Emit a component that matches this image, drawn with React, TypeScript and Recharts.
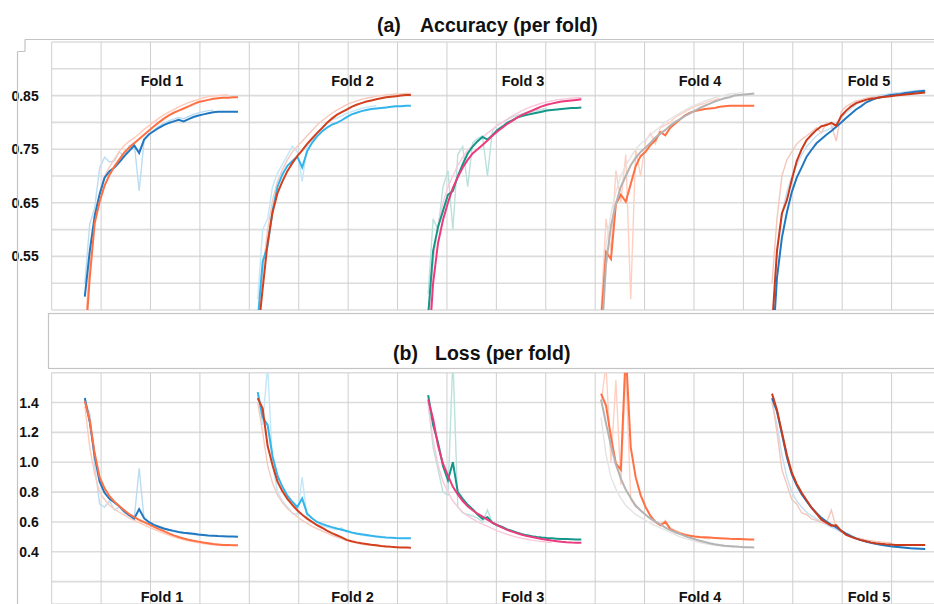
import { CartesianGrid, Line, LineChart, XAxis, YAxis } from "recharts";

const FONT = '"Liberation Sans", Arial, Helvetica, sans-serif';

// epoch axis: one grid cell = 10 epochs, each fold drawn from its own start
const FOLD_START = [6.7, 41.7, 76.2, 111.2, 145.8];
const X_DOMAIN: [number, number] = [0, 180];
const X_TICKS = [0, 10, 20, 30, 40, 50, 60, 70, 80, 90, 100, 110, 120, 130, 140, 150, 160, 170, 180];

const FOLD_LABELS = ["Fold 1", "Fold 2", "Fold 3", "Fold 4", "Fold 5"];
const FOLD_LABEL_X = [162, 352.5, 523, 700, 869];

const ACC_TICKS = [0.45, 0.5, 0.55, 0.6, 0.65, 0.7, 0.75, 0.8, 0.85, 0.9, 0.95];
const ACC_LABELED = [0.55, 0.65, 0.75, 0.85];
const LOSS_TICKS = [0.2, 0.4, 0.6, 0.8, 1.0, 1.2, 1.4, 1.6];
const LOSS_LABELED = [0.4, 0.6, 0.8, 1.0, 1.2, 1.4];

// ---- accuracy, per fold (A / B = the two runs, Light = raw noisy curves)
const acc1A = [0.475, 0.56, 0.625, 0.666, 0.697, 0.709, 0.716, 0.726, 0.737, 0.747, 0.757, 0.743, 0.768, 0.778, 0.784, 0.79, 0.795, 0.799, 0.802, 0.805, 0.802, 0.806, 0.81, 0.813, 0.815, 0.817, 0.819, 0.82, 0.82, 0.82, 0.82, 0.82];
const acc1B = [0.38, 0.51, 0.612, 0.652, 0.682, 0.702, 0.718, 0.731, 0.744, 0.753, 0.761, 0.769, 0.777, 0.785, 0.793, 0.8, 0.807, 0.813, 0.818, 0.822, 0.826, 0.83, 0.834, 0.838, 0.84, 0.842, 0.844, 0.845, 0.846, 0.846, 0.847, 0.847];
const acc1ALight = [0.5, 0.61, 0.64, 0.715, 0.735, 0.726, 0.728, 0.745, 0.736, 0.756, 0.762, 0.672, 0.766, 0.776, 0.786, 0.793, 0.798, 0.803, 0.806, 0.809, 0.807, 0.811, 0.815, 0.818, 0.82, 0.822, 0.823];
const acc1BLight = [0.4, 0.54, 0.63, 0.668, 0.7, 0.717, 0.732, 0.746, 0.757, 0.765, 0.771, 0.779, 0.787, 0.794, 0.801, 0.808, 0.814, 0.819, 0.824, 0.829, 0.833, 0.837, 0.84, 0.843, 0.846, 0.848, 0.849, 0.85, 0.851, 0.851];

const acc2A = [0.43, 0.54, 0.57, 0.635, 0.68, 0.703, 0.719, 0.728, 0.736, 0.716, 0.746, 0.762, 0.774, 0.783, 0.79, 0.796, 0.799, 0.804, 0.81, 0.815, 0.818, 0.821, 0.823, 0.825, 0.826, 0.827, 0.828, 0.829, 0.83, 0.83, 0.831, 0.831];
const acc2B = [0.4, 0.49, 0.575, 0.632, 0.668, 0.69, 0.709, 0.724, 0.737, 0.748, 0.76, 0.77, 0.78, 0.789, 0.799, 0.807, 0.814, 0.819, 0.824, 0.829, 0.833, 0.836, 0.839, 0.841, 0.843, 0.845, 0.847, 0.848, 0.849, 0.85, 0.851, 0.851];
const acc2ALight = [0.47, 0.6, 0.62, 0.68, 0.705, 0.722, 0.738, 0.756, 0.745, 0.69, 0.755, 0.768, 0.78, 0.79, 0.798, 0.805, 0.808, 0.812, 0.817, 0.82, 0.823, 0.826, 0.828, 0.83, 0.831];
const acc2BLight = [0.42, 0.52, 0.6, 0.655, 0.69, 0.712, 0.73, 0.745, 0.755, 0.765, 0.775, 0.785, 0.795, 0.803, 0.81, 0.817, 0.823, 0.828, 0.833, 0.837, 0.84, 0.843, 0.845, 0.847, 0.849, 0.85, 0.851, 0.852, 0.853, 0.853, 0.854, 0.854];

const acc3A = [0.44, 0.56, 0.605, 0.635, 0.665, 0.672, 0.7, 0.722, 0.742, 0.755, 0.765, 0.773, 0.768, 0.776, 0.786, 0.792, 0.799, 0.804, 0.809, 0.812, 0.814, 0.816, 0.818, 0.82, 0.822, 0.823, 0.824, 0.825, 0.826, 0.827, 0.827, 0.828];
const acc3B = [0.36, 0.5, 0.575, 0.618, 0.65, 0.678, 0.698, 0.716, 0.73, 0.742, 0.75, 0.758, 0.766, 0.775, 0.783, 0.79, 0.797, 0.803, 0.809, 0.814, 0.818, 0.822, 0.826, 0.83, 0.833, 0.835, 0.837, 0.839, 0.84, 0.841, 0.842, 0.843];
const acc3ALight = [0.48, 0.62, 0.6, 0.68, 0.71, 0.6, 0.74, 0.755, 0.68, 0.762, 0.77, 0.775, 0.7, 0.785, 0.795, 0.8, 0.805, 0.81, 0.813, 0.816, 0.818, 0.82, 0.822, 0.824, 0.826];
const acc3BLight = [0.4, 0.54, 0.61, 0.65, 0.68, 0.7, 0.72, 0.735, 0.748, 0.757, 0.765, 0.772, 0.78, 0.787, 0.795, 0.8, 0.806, 0.812, 0.817, 0.822, 0.826, 0.83, 0.833, 0.836, 0.838, 0.84, 0.842, 0.843, 0.844, 0.845, 0.846, 0.846];

const acc4A = [0.43, 0.558, 0.545, 0.648, 0.665, 0.652, 0.685, 0.718, 0.737, 0.745, 0.758, 0.767, 0.782, 0.776, 0.79, 0.798, 0.806, 0.813, 0.818, 0.821, 0.823, 0.825, 0.826, 0.827, 0.829, 0.83, 0.831, 0.831, 0.831, 0.831, 0.831, 0.831];
const acc4B = [0.38, 0.535, 0.607, 0.648, 0.68, 0.7, 0.72, 0.734, 0.745, 0.753, 0.762, 0.772, 0.779, 0.786, 0.794, 0.801, 0.806, 0.812, 0.817, 0.822, 0.827, 0.831, 0.835, 0.839, 0.842, 0.845, 0.847, 0.85, 0.851, 0.852, 0.853, 0.854];
const acc4ALight = [0.45, 0.62, 0.56, 0.71, 0.65, 0.74, 0.47, 0.75, 0.7, 0.765, 0.78, 0.76, 0.79, 0.795, 0.8, 0.81, 0.815, 0.82, 0.825, 0.83, 0.833, 0.836, 0.84, 0.842, 0.845];
const acc4BLight = [0.4, 0.57, 0.63, 0.67, 0.7, 0.72, 0.735, 0.75, 0.76, 0.768, 0.776, 0.785, 0.792, 0.8, 0.806, 0.812, 0.818, 0.823, 0.828, 0.832, 0.836, 0.84, 0.843, 0.846, 0.849, 0.851, 0.853, 0.854, 0.855, 0.856];

const acc5A = [0.36, 0.51, 0.585, 0.632, 0.67, 0.697, 0.716, 0.736, 0.749, 0.761, 0.769, 0.777, 0.784, 0.792, 0.8, 0.808, 0.816, 0.824, 0.83, 0.837, 0.841, 0.845, 0.847, 0.849, 0.851, 0.852, 0.853, 0.855, 0.856, 0.857, 0.858, 0.859];
const acc5B = [0.42, 0.56, 0.63, 0.655, 0.693, 0.728, 0.75, 0.767, 0.777, 0.786, 0.793, 0.795, 0.799, 0.794, 0.812, 0.822, 0.83, 0.836, 0.839, 0.842, 0.844, 0.845, 0.847, 0.848, 0.849, 0.85, 0.851, 0.852, 0.853, 0.854, 0.855, 0.856];
const acc5ALight = [0.4, 0.56, 0.63, 0.67, 0.7, 0.72, 0.74, 0.755, 0.765, 0.775, 0.782, 0.785, 0.79, 0.797, 0.808, 0.818, 0.826, 0.833, 0.839, 0.843, 0.846, 0.849, 0.851, 0.852, 0.854, 0.855, 0.856, 0.857, 0.858, 0.859, 0.86, 0.86];
const acc5BLight = [0.5, 0.62, 0.7, 0.73, 0.745, 0.76, 0.768, 0.775, 0.782, 0.79, 0.78, 0.8, 0.795, 0.765, 0.82, 0.83, 0.835, 0.84, 0.842, 0.845, 0.847, 0.848, 0.85];

// ---- loss, per fold
const loss1A = [1.43, 1.27, 1.04, 0.87, 0.795, 0.755, 0.73, 0.705, 0.672, 0.645, 0.622, 0.686, 0.625, 0.598, 0.58, 0.568, 0.556, 0.547, 0.54, 0.533, 0.528, 0.524, 0.52, 0.515, 0.512, 0.509, 0.507, 0.505, 0.504, 0.503, 0.502, 0.501];
const loss1B = [1.41, 1.28, 1.06, 0.9, 0.825, 0.772, 0.735, 0.705, 0.678, 0.652, 0.632, 0.614, 0.599, 0.583, 0.567, 0.552, 0.538, 0.523, 0.51, 0.499, 0.489, 0.481, 0.474, 0.468, 0.462, 0.457, 0.452, 0.449, 0.446, 0.445, 0.444, 0.443];
const loss1ALight = [1.4, 1.33, 0.98, 0.72, 0.7, 0.74, 0.68, 0.7, 0.66, 0.64, 0.62, 0.96, 0.62, 0.59, 0.575, 0.562, 0.552, 0.543, 0.536, 0.53, 0.525, 0.52, 0.516, 0.513, 0.51, 0.508, 0.506];
const loss1BLight = [1.38, 1.1, 0.92, 0.8, 0.75, 0.71, 0.685, 0.665, 0.645, 0.625, 0.61, 0.595, 0.58, 0.565, 0.55, 0.537, 0.524, 0.512, 0.5, 0.49, 0.481, 0.473, 0.466, 0.46, 0.455, 0.45, 0.446, 0.443, 0.441, 0.44];

const loss2A = [1.47, 1.3, 1.25, 1.04, 0.91, 0.835, 0.776, 0.735, 0.7, 0.757, 0.655, 0.625, 0.6, 0.587, 0.575, 0.565, 0.556, 0.548, 0.539, 0.53, 0.523, 0.517, 0.512, 0.507, 0.503, 0.499, 0.496, 0.494, 0.492, 0.491, 0.49, 0.49];
const loss2B = [1.43, 1.36, 1.11, 0.98, 0.87, 0.805, 0.755, 0.714, 0.678, 0.648, 0.622, 0.6, 0.578, 0.561, 0.541, 0.525, 0.511, 0.497, 0.48, 0.47, 0.463, 0.457, 0.452, 0.447, 0.443, 0.439, 0.436, 0.433, 0.431, 0.429, 0.428, 0.427];
const loss2ALight = [1.45, 1.25, 1.65, 0.98, 0.8, 0.74, 0.7, 0.66, 0.65, 0.9, 0.63, 0.6, 0.585, 0.575, 0.565, 0.555, 0.547, 0.56, 0.532, 0.525, 0.518, 0.512, 0.507, 0.503, 0.5];
const loss2BLight = [1.4, 1.2, 0.98, 0.86, 0.78, 0.73, 0.69, 0.66, 0.635, 0.61, 0.59, 0.57, 0.555, 0.54, 0.525, 0.51, 0.498, 0.486, 0.475, 0.466, 0.458, 0.452, 0.447, 0.443, 0.44, 0.437, 0.434];

const loss3A = [1.45, 1.25, 1.13, 0.975, 0.88, 1.0, 0.8, 0.755, 0.715, 0.685, 0.65, 0.62, 0.632, 0.595, 0.578, 0.566, 0.55, 0.54, 0.528, 0.518, 0.51, 0.504, 0.499, 0.495, 0.492, 0.49, 0.488, 0.486, 0.485, 0.484, 0.483, 0.483];
const loss3B = [1.42, 1.29, 1.11, 0.99, 0.91, 0.835, 0.785, 0.74, 0.705, 0.678, 0.655, 0.636, 0.615, 0.595, 0.578, 0.562, 0.547, 0.535, 0.524, 0.514, 0.505, 0.499, 0.492, 0.486, 0.48, 0.475, 0.471, 0.467, 0.464, 0.462, 0.461, 0.46];
const loss3ALight = [1.4, 1.1, 0.95, 0.8, 0.78, 1.7, 0.7, 0.66, 0.65, 0.64, 0.625, 0.6, 0.68, 0.59, 0.575, 0.56, 0.55, 0.54, 0.53, 0.52, 0.512, 0.505];
const loss3BLight = [1.38, 1.15, 0.98, 0.87, 0.8, 0.74, 0.7, 0.665, 0.64, 0.62, 0.6, 0.585, 0.57, 0.555, 0.54, 0.528, 0.517, 0.507, 0.498, 0.49, 0.484, 0.478, 0.473, 0.469, 0.465, 0.462];

const loss4A = [1.46, 1.38, 1.17, 0.99, 0.95, 1.75, 1.1, 0.9, 0.78, 0.7, 0.64, 0.6, 0.578, 0.6, 0.552, 0.535, 0.522, 0.513, 0.507, 0.502, 0.499, 0.497, 0.495, 0.493, 0.491, 0.489, 0.487, 0.486, 0.485, 0.484, 0.483, 0.483];
const loss4B = [1.42, 1.26, 1.11, 0.985, 0.89, 0.815, 0.76, 0.71, 0.677, 0.648, 0.622, 0.602, 0.583, 0.562, 0.545, 0.531, 0.518, 0.505, 0.494, 0.484, 0.474, 0.465, 0.457, 0.45, 0.445, 0.441, 0.438, 0.436, 0.433, 0.431, 0.43, 0.429];
const loss4ALight = [1.4, 1.65, 1.0, 1.55, 0.85, 1.62, 0.75, 0.7, 0.68, 0.65, 0.62, 0.6, 0.58, 0.61, 0.56, 0.545, 0.53, 0.52, 0.51, 0.5, 0.495, 0.49, 0.487];
const loss4BLight = [1.3, 1.05, 0.9, 0.82, 0.76, 0.71, 0.68, 0.65, 0.63, 0.61, 0.59, 0.575, 0.56, 0.545, 0.53, 0.515, 0.5, 0.49, 0.48, 0.47, 0.462, 0.455, 0.449, 0.444, 0.44, 0.437, 0.434, 0.432];

const loss5A = [1.43, 1.34, 1.19, 1.035, 0.92, 0.845, 0.785, 0.74, 0.695, 0.66, 0.627, 0.602, 0.581, 0.563, 0.541, 0.522, 0.504, 0.49, 0.478, 0.469, 0.46, 0.453, 0.447, 0.442, 0.437, 0.433, 0.43, 0.427, 0.424, 0.422, 0.42, 0.418];
const loss5B = [1.46, 1.35, 1.2, 1.05, 0.93, 0.855, 0.795, 0.745, 0.695, 0.655, 0.615, 0.595, 0.575, 0.578, 0.54, 0.514, 0.5, 0.488, 0.478, 0.47, 0.463, 0.457, 0.453, 0.45, 0.448, 0.446, 0.445, 0.445, 0.445, 0.445, 0.445, 0.445];
const loss5ALight = [1.4, 1.25, 1.05, 0.9, 0.8, 0.74, 0.7, 0.665, 0.64, 0.62, 0.6, 0.58, 0.565, 0.55, 0.53, 0.515, 0.5, 0.488, 0.476, 0.466, 0.458, 0.451, 0.445, 0.44, 0.436, 0.432, 0.429, 0.426, 0.424, 0.422];
const loss5BLight = [1.42, 1.2, 0.95, 0.85, 0.75, 0.72, 0.66, 0.65, 0.62, 0.61, 0.595, 0.59, 0.68, 0.56, 0.535, 0.52, 0.505, 0.495, 0.487, 0.48, 0.475, 0.47, 0.466, 0.463, 0.46];

// colours per fold: [A, B, A light, B light]
const FOLD_COLORS = [
  ["#1f78c1", "#ff7043", "#bcdcf1", "#ffcab9"],
  ["#33b4ec", "#d2401e", "#c2e7f8", "#f5cabe"],
  ["#14968a", "#ec3b7d", "#bbe1db", "#f9c9db"],
  ["#ff7043", "#b4b4b4", "#ffd0c2", "#e4e4e4"],
  ["#1f78c1", "#cc3a1c", "#c5dff2", "#f4c7bb"],
];

type Series = { fold: number; values: number[]; kind: number };

const build = (rows: number[][][]): Series[] => {
  const out: Series[] = [];
  // light curves under the solid ones
  rows.forEach((r, fold) => {
    out.push({ fold, values: r[2], kind: 2 });
    out.push({ fold, values: r[3], kind: 3 });
  });
  rows.forEach((r, fold) => {
    out.push({ fold, values: r[0], kind: 0 });
    out.push({ fold, values: r[1], kind: 1 });
  });
  return out;
};

const accSeries = build([
  [acc1A, acc1B, acc1ALight, acc1BLight],
  [acc2A, acc2B, acc2ALight, acc2BLight],
  [acc3A, acc3B, acc3ALight, acc3BLight],
  [acc4A, acc4B, acc4ALight, acc4BLight],
  [acc5A, acc5B, acc5ALight, acc5BLight],
]);
const lossSeries = build([
  [loss1A, loss1B, loss1ALight, loss1BLight],
  [loss2A, loss2B, loss2ALight, loss2BLight],
  [loss3A, loss3B, loss3ALight, loss3BLight],
  [loss4A, loss4B, loss4ALight, loss4BLight],
  [loss5A, loss5B, loss5ALight, loss5BLight],
]);

const toPoints = (fold: number, values: number[]) =>
  values.map((v, i) => ({ epoch: FOLD_START[fold] + i, value: v }));

const CHART_W = 960;
const PLOT_LEFT = 51.7;
const PLOT_RIGHT = 941;

function FoldPanel({
  series,
  top,
  height,
  marginTop,
  marginBottom,
  yDomain,
  yTicks,
  labeled,
  digits,
}: {
  series: Series[];
  top: number;
  height: number;
  marginTop: number;
  marginBottom: number;
  yDomain: [number, number];
  yTicks: number[];
  labeled: number[];
  digits: number;
}) {
  const tick = (p: { x?: number; y?: number; payload?: { value: number } }) => {
    const v = p.payload?.value ?? 0;
    const show = labeled.some((l) => Math.abs(l - v) < 1e-6);
    if (!show) return <g />;
    return (
      <text
        x={p.x}
        y={p.y}
        dy="0.36em"
        textAnchor="end"
        fontSize={14}
        fontWeight={700}
        fill="#111"
        fontFamily={FONT}
      >
        {v.toFixed(digits)}
      </text>
    );
  };

  return (
    <div style={{ position: "absolute", left: 0, top }}>
      <LineChart
        width={CHART_W}
        height={height}
        margin={{ top: marginTop, right: CHART_W - PLOT_RIGHT, bottom: marginBottom, left: 0 }}
      >
        <CartesianGrid vertical={false} stroke="#dcdcdc" strokeWidth={1.6} />
        <CartesianGrid horizontal={false} stroke="#cfcfcf" strokeWidth={1} />
        <XAxis type="number" dataKey="epoch" domain={X_DOMAIN} ticks={X_TICKS} hide />
        <YAxis
          type="number"
          domain={yDomain}
          ticks={yTicks}
          interval={0}
          allowDataOverflow
          width={PLOT_LEFT}
          tickLine={false}
          axisLine={false}
          tickSize={6}
          tickMargin={7}
          tick={tick}
        />
        {series.map((s, i) => (
          <Line
            key={i}
            data={toPoints(s.fold, s.values)}
            dataKey="value"
            type="linear"
            stroke={FOLD_COLORS[s.fold][s.kind]}
            strokeWidth={s.kind < 2 ? 2 : 1.4}
            dot={false}
            activeDot={false}
            isAnimationActive={false}
          />
        ))}
      </LineChart>
    </div>
  );
}

export default function App() {
  const frame = "#c4c4c4";
  return (
    <div
      style={{
        position: "absolute",
        left: 0,
        top: 0,
        width: 934,
        height: 604,
        overflow: "hidden",
        background: "#fff",
        fontFamily: FONT,
      }}
    >
      <FoldPanel
        series={accSeries}
        top={0}
        height={320}
        marginTop={42}
        marginBottom={10}
        yDomain={[0.45, 0.95]}
        yTicks={ACC_TICKS}
        labeled={ACC_LABELED}
        digits={2}
      />
      <FoldPanel
        series={lossSeries}
        top={340}
        height={280}
        marginTop={32.7}
        marginBottom={16}
        yDomain={[0.05, 1.6]}
        yTicks={LOSS_TICKS}
        labeled={LOSS_LABELED}
        digits={1}
      />
      <svg
        width={934}
        height={604}
        style={{ position: "absolute", left: 0, top: 0, pointerEvents: "none" }}
      >
        <path
          d="M25 39.5 H934 M25 39.5 V51.5 M17.5 51.5 H25 M17.5 51.5 V604"
          fill="none"
          stroke={frame}
          strokeWidth={1.2}
        />
        <rect x={48.5} y={313.5} width={900} height={55} fill="#fff" stroke={frame} strokeWidth={1.2} />
        <text x={377} y={32} fontSize={19.5} fontWeight={700} fill="#111" fontFamily={FONT}>
          (a)
        </text>
        <text x={420} y={32} fontSize={19.5} fontWeight={700} fill="#111" fontFamily={FONT}>
          Accuracy (per fold)
        </text>
        <text x={393} y={359.5} fontSize={19.5} fontWeight={700} fill="#111" fontFamily={FONT}>
          (b)
        </text>
        <text x={435} y={359.5} fontSize={19.5} fontWeight={700} fill="#111" fontFamily={FONT}>
          Loss (per fold)
        </text>
        {FOLD_LABELS.map((l, i) => (
          <g key={l}>
            <text x={FOLD_LABEL_X[i]} y={85.5} textAnchor="middle" fontSize={14.5} fontWeight={700} fill="#111" fontFamily={FONT}>
              {l}
            </text>
            <text x={FOLD_LABEL_X[i]} y={601.5} textAnchor="middle" fontSize={14.5} fontWeight={700} fill="#111" fontFamily={FONT}>
              {l}
            </text>
          </g>
        ))}
      </svg>
    </div>
  );
}
